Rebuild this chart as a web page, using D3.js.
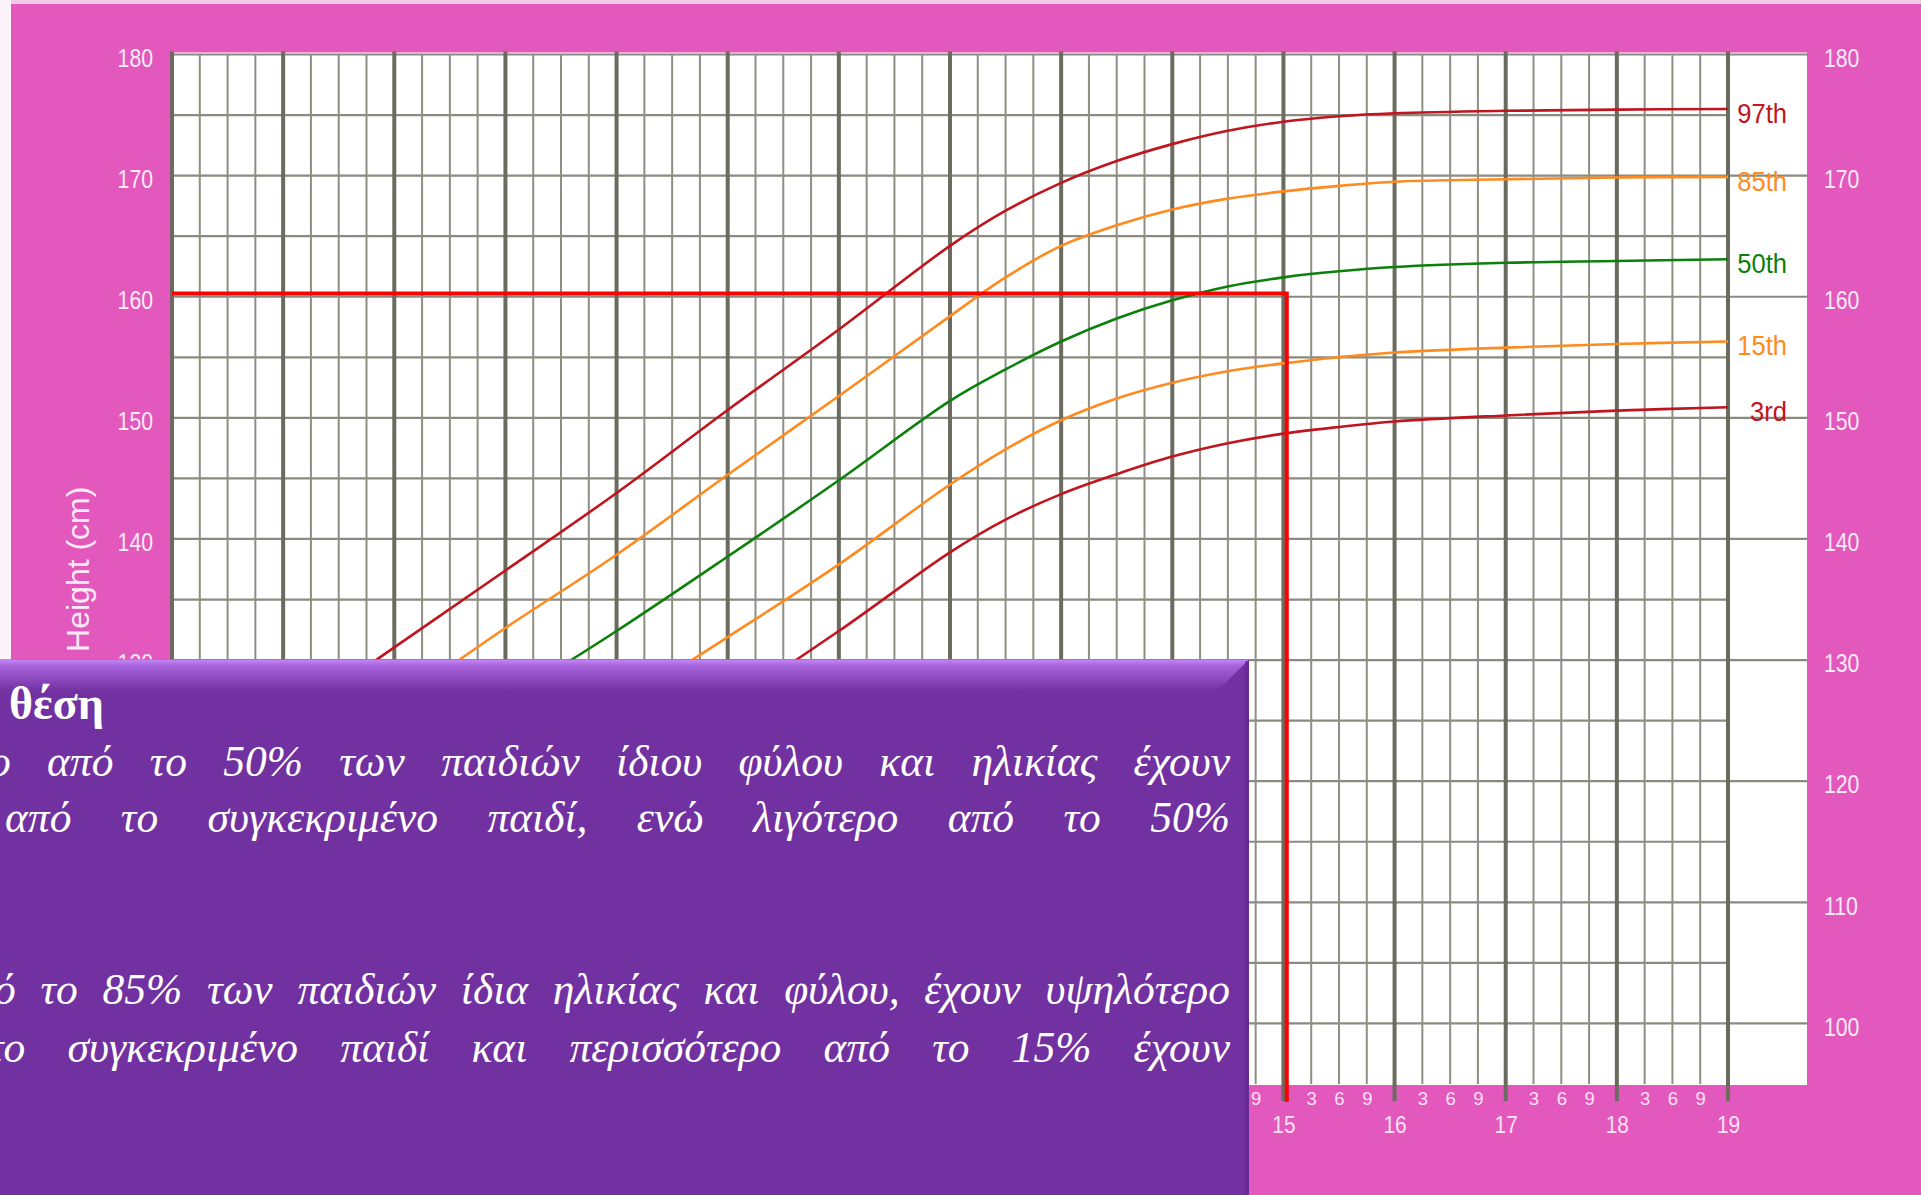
<!DOCTYPE html>
<html>
<head>
<meta charset="utf-8">
<script src="https://cdn.jsdelivr.net/npm/d3@7"></script>
<style>
  html, body { margin: 0; padding: 0; background: #e258bc; overflow: hidden; }
  svg { display: block; }
</style>
</head>
<body>
<svg id="chart" width="1921" height="1195"></svg>
<script>
// ---------------- DATA ----------------
const ages = [5, 6, 7, 8, 9, 10, 11, 12, 12.5, 13, 13.5, 14, 14.5, 15, 15.5, 16, 17, 18, 19];
const p97 = [118.5, 124.7, 131.05, 137.4, 143.8, 150.65, 157.3, 164.2, 167.1, 169.4, 171.2, 172.6, 173.7, 174.45, 174.9, 175.15, 175.35, 175.45, 175.5];
const p85 = [114.3, 120.2, 126.3, 132.65, 138.7, 145.3, 151.8, 158.4, 161.6, 164.2, 165.9, 167.2, 168.1, 168.7, 169.15, 169.5, 169.7, 169.85, 169.9];
const p50 = [109.4, 115.1, 120.8, 126.6, 132.4, 138.55, 144.85, 151.4, 154.0, 156.3, 158.2, 159.7, 160.85, 161.6, 162.1, 162.45, 162.8, 162.95, 163.1];
const p15 = [104.5, 109.9, 115.3, 120.6, 126.1, 131.9, 137.9, 144.5, 147.4, 149.8, 151.6, 152.9, 153.85, 154.5, 155.0, 155.4, 155.8, 156.1, 156.3];
const p03 = [100.5, 105.6, 110.6, 115.5, 120.6, 126.3, 132.4, 138.9, 141.6, 143.7, 145.35, 146.8, 147.9, 148.7, 149.25, 149.7, 150.2, 150.6, 150.87];
const seriesNames = ["97th", "85th", "50th", "15th", "3rd"];
const seriesValues = [p97, p85, p50, p15, p03];
const seriesColors = ["#c0141e", "#ff8a1d", "#0b800b", "#ff8a1d", "#c0141e"];

const yTicks = [100, 110, 120, 130, 140, 150, 160, 170, 180];
const yearTicks = d3.range(5, 20);                  // 5..19
const monthTicks = [];                              // 3,6,9 months of each year
yearTicks.slice(0, -1).forEach(a => [0.25, 0.5, 0.75].forEach(f => monthTicks.push(a + f)));
const hGrid = d3.range(100, 181, 5);

const markAge = 15.03, markHeight = 160.27;         // child's point

const heading = "θέση";
const textLines = [
  ["ο","από","το","50%","των","παιδιών","ίδιου","φύλου","και","ηλικίας","έχουν"],
  ["από","το","συγκεκριμένο","παιδί,","ενώ","λιγότερο","από","το","50%"],
  ["ό","το","85%","των","παιδιών","ίδια","ηλικίας","και","φύλου,","έχουν","υψηλότερο"],
  ["το","συγκεκριμένο","παιδί","και","περισσότερο","από","το","15%","έχουν"]
];

// ---------------- LAYOUT ----------------
const svg = d3.select("#chart");
const W = 1921, H = 1195;
const x = d3.scaleLinear().domain([5, 19]).range([172, 1728]);
const y = d3.scaleLinear().domain([95, 180]).range([1084, 54.5]);
const plotRight = 1807;
const sansFont = "'Liberation Sans', Arial, sans-serif";
const serifFont = "'Liberation Serif', 'Times New Roman', serif";

// background
svg.append("rect").attr("width", W).attr("height", H).attr("fill", "#e258bc");
svg.append("rect").attr("width", W).attr("height", 4).attr("fill", "#f3c9e8");
svg.append("rect").attr("width", 11).attr("height", H).attr("fill", "#fcf2fa");

// white plot area
svg.append("rect").attr("x", 170).attr("y", 52.5)
  .attr("width", plotRight - 170).attr("height", 1085 - 52.5).attr("fill", "#ffffff");

// horizontal grid
svg.append("g").selectAll("line").data(hGrid).join("line")
  .attr("x1", x(5)).attr("x2", d => d % 10 === 0 ? plotRight : x(19))
  .attr("y1", d => y(d)).attr("y2", d => y(d))
  .attr("stroke", "#8a8a80").attr("stroke-width", 2.2);

// minor vertical grid
svg.append("g").selectAll("line").data(monthTicks).join("line")
  .attr("x1", d => x(d)).attr("x2", d => x(d))
  .attr("y1", y(180)).attr("y2", y(95))
  .attr("stroke", "#8e8e85").attr("stroke-width", 2);

// major vertical grid
svg.append("g").selectAll("line").data(yearTicks).join("line")
  .attr("x1", d => x(d)).attr("x2", d => x(d))
  .attr("y1", y(180) - 3).attr("y2", 1101)
  .attr("stroke", "#6b6b60").attr("stroke-width", 4);

// curves
const line = d3.line().x(d => x(d[0])).y(d => y(d[1])).curve(d3.curveCatmullRom.alpha(0.5));
seriesValues.forEach((vals, i) => {
  svg.append("path")
    .datum(ages.map((a, j) => [a, vals[j]]))
    .attr("d", line)
    .attr("fill", "none")
    .attr("stroke", seriesColors[i])
    .attr("stroke-width", 2.6);
});

// series labels (slightly condensed)
const labSx = 0.93;
svg.append("g").selectAll("text").data(seriesNames).join("text")
  .attr("transform", `scale(${labSx},1)`)
  .attr("x", 1787 / labSx)
  .attr("y", (d, i) => y(seriesValues[i][seriesValues[i].length - 1]) + 4)
  .attr("dy", "0.36em")
  .attr("text-anchor", "end")
  .attr("font-family", sansFont)
  .attr("font-size", 27.5)
  .attr("fill", (d, i) => seriesColors[i])
  .text(d => d);

// red marker lines
svg.append("path")
  .attr("d", `M${x(5)},${y(markHeight)}H${x(markAge)}V1102`)
  .attr("fill", "none").attr("stroke", "#ff0000").attr("stroke-width", 4);

// axes
function styleAxis(g, size, color, sx, dy) {
  g.select(".domain").remove();
  g.selectAll("text").attr("font-family", sansFont).attr("font-size", size).attr("fill", color);
  if (dy) g.selectAll("text").attr("dy", dy);
  if (sx !== 1) {
    g.selectAll("text").each(function () {
      const t = d3.select(this);
      const xv = +t.attr("x") || 0;
      t.attr("transform", `scale(${sx},1)`).attr("x", xv / sx);
    });
  }
}
svg.append("g").attr("transform", `translate(${x(5)},0)`)
  .call(d3.axisLeft(y).tickValues(yTicks.filter(v => v >= 130)).tickSize(0).tickPadding(19).tickFormat(d3.format("d")))
  .call(g => styleAxis(g, 25, "#fdeaf8", 0.85, "0.47em"));
svg.append("g").attr("transform", `translate(${plotRight},0)`)
  .call(d3.axisRight(y).tickValues(yTicks).tickSize(0).tickPadding(17).tickFormat(d3.format("d")))
  .call(g => styleAxis(g, 25, "#fdeaf8", 0.85, "0.47em"));
svg.append("g").attr("transform", `translate(0,${y(95)})`)
  .call(d3.axisBottom(x).tickValues(monthTicks).tickSize(0).tickPadding(7.8)
    .tickFormat(d => String(Math.round((d % 1) * 12))))
  .call(g => styleAxis(g, 18.5, "#fbe2f4", 1));
svg.append("g").attr("transform", `translate(0,${y(95)})`)
  .call(d3.axisBottom(x).tickValues(yearTicks).tickSize(0).tickPadding(32.3).tickFormat(d3.format("d")))
  .call(g => styleAxis(g, 24, "#fbe2f4", 0.87));

// y axis title
svg.append("text")
  .attr("transform", `translate(89,${(y(180) + y(95)) / 2}) rotate(-90)`)
  .attr("text-anchor", "middle")
  .attr("font-family", sansFont).attr("font-size", 32).attr("fill", "#fdeaf8")
  .text("Height (cm)");

// ---------------- OVERLAY BOX ----------------
const defs = svg.append("defs");
const grad = defs.append("linearGradient").attr("id", "bevel").attr("x1", 0).attr("y1", 0).attr("x2", 0).attr("y2", 1);
grad.append("stop").attr("offset", 0).attr("stop-color", "#c588f6");
grad.append("stop").attr("offset", 0.2).attr("stop-color", "#a763db");
grad.append("stop").attr("offset", 1).attr("stop-color", "#7131a0");

const bx = 0, by = 659.5, bw = 1249, bevel = 32;
svg.append("rect").attr("x", bx).attr("y", by).attr("width", bw).attr("height", H - by).attr("fill", "#7131a0");
svg.append("path")
  .attr("d", `M${bx},${by}H${bx + bw}L${bx + bw - bevel},${by + bevel}H${bx}Z`)
  .attr("fill", "url(#bevel)");
svg.append("rect").attr("x", bx + bw - 4).attr("y", by + 2).attr("width", 4).attr("height", H - by)
  .attr("fill", "#652b92");

// heading
svg.append("text").attr("x", 9).attr("y", 719)
  .attr("font-family", serifFont)
  .attr("font-weight", "bold").attr("font-size", 46).attr("fill", "#ffffff")
  .text(heading);

// justified italic lines
const lineStarts = [-11, 5, -6, -12];
const lineBaselines = [776, 832, 1004, 1062];
const lineEnd = 1230;
textLines.forEach((words, li) => {
  const g = svg.append("g");
  const nodes = words.map(w => g.append("text")
    .attr("font-family", serifFont)
    .attr("font-style", "italic").attr("font-size", 43.5).attr("fill", "#ffffff")
    .attr("y", lineBaselines[li]).text(w));
  const widths = nodes.map(n => n.node().getComputedTextLength());
  const total = d3.sum(widths);
  const gap = (lineEnd - lineStarts[li] - total) / (words.length - 1);
  let cx = lineStarts[li];
  nodes.forEach((n, i) => { n.attr("x", cx); cx += widths[i] + gap; });
});
</script>
</body>
</html>
